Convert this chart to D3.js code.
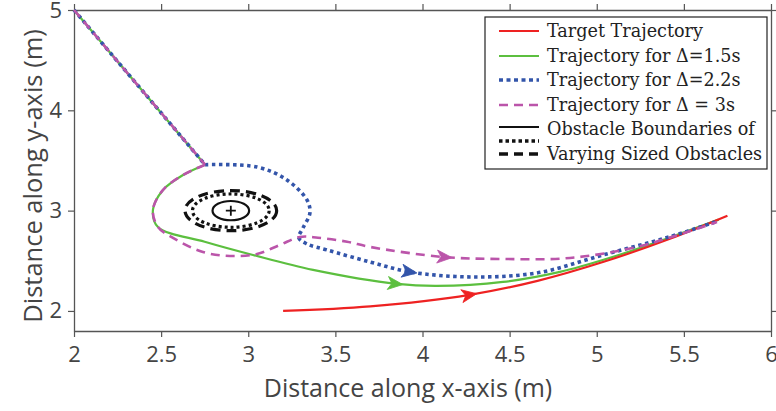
<!DOCTYPE html>
<html><head><meta charset="utf-8">
<script src="https://cdn.jsdelivr.net/npm/d3@7"></script>
<style>body{margin:0;background:#fff}</style>
</head><body>
<svg id="c" width="776" height="411"></svg>
<script>
// ---- data ----
const xTicks = [2, 2.5, 3, 3.5, 4, 4.5, 5, 5.5, 6];
const xTickLabels = ["2", "2.5", "3", "3.5", "4", "4.5", "5", "5.5", "6"];
const yTicks = [2, 3, 4, 5];
const yTickLabels = ["2", "3", "4", "5"];

const startPoint = [2, 5];
const kinkPoint = [2.752, 3.458];

const redX = [3.2, 3.7, 4.27, 4.66, 5.04, 5.42, 5.75];
const redY = [2.0, 2.045, 2.16, 2.30, 2.49, 2.72, 2.95];

const greenX = [2.752, 2.626, 2.511, 2.453, 2.482, 2.75, 3.027, 3.372, 3.854, 4.083, 4.462, 4.789, 5.076, 5.4, 5.7];
const greenY = [3.458, 3.355, 3.206, 3.007, 2.837, 2.69, 2.558, 2.409, 2.269, 2.249, 2.289, 2.389, 2.53, 2.72, 2.91];

const blueX = [2.752, 3.05, 3.222, 3.337, 3.354, 3.314, 3.29, 3.337, 3.452, 3.699, 3.928, 4.273, 4.657, 5.036, 5.42, 5.68];
const blueY = [3.458, 3.435, 3.306, 3.106, 2.977, 2.827, 2.73, 2.668, 2.608, 2.488, 2.389, 2.339, 2.379, 2.558, 2.74, 2.887];

const magentaX = [2.752, 2.626, 2.511, 2.453, 2.482, 2.568, 2.74, 2.895, 3.05, 3.182, 3.297, 3.40, 3.567, 3.699, 4.118, 4.462, 4.846, 5.231, 5.518, 5.69];
const magentaY = [3.458, 3.355, 3.206, 3.007, 2.837, 2.728, 2.588, 2.548, 2.568, 2.658, 2.738, 2.73, 2.69, 2.638, 2.538, 2.518, 2.528, 2.638, 2.787, 2.887];

// arrow tip positions (data coords)
const arrowRed = [4.31, 2.17];
const arrowGreen = [3.888, 2.266];
const arrowBlue = [3.968, 2.379];
const arrowMagenta = [4.17, 2.536];

// obstacle (centre and radii in data units)
const obstacleCenter = [2.9, 3.0];
const obstacleRx = [0.105, 0.22, 0.263];
const obstacleRy = [0.096, 0.166, 0.2];

const legendLabels = ["Target Trajectory", "Trajectory for \u0394=1.5s", "Trajectory for \u0394=2.2s",
  "Trajectory for \u0394 = 3s", "Obstacle Boundaries of", "Varying Sized Obstacles"];

// ---- chart ----
const svg = d3.select("#c");
const x = d3.scaleLinear().domain([2, 6]).range([74, 771]);
const y = d3.scaleLinear().domain([1.8, 5]).range([331, 10]);
const axisColor = "#555";
const tickFont = "'Open Sans', sans-serif";

// axes
const gx = svg.append("g").attr("transform", "translate(0,331)")
  .call(d3.axisBottom(x).tickValues(xTicks).tickFormat((d, i) => xTickLabels[i]).tickSize(6).tickSizeOuter(0));
const gxt = svg.append("g").attr("transform", "translate(0,10)")
  .call(d3.axisTop(x).tickValues(xTicks).tickFormat("").tickSize(6).tickSizeOuter(0));
const gy = svg.append("g").attr("transform", "translate(74,0)")
  .call(d3.axisLeft(y).tickValues(yTicks).tickFormat((d, i) => yTickLabels[i]).tickSize(6).tickSizeOuter(0));
const gyr = svg.append("g").attr("transform", "translate(771,0)")
  .call(d3.axisRight(y).tickValues(yTicks).tickFormat("").tickSize(6).tickSizeOuter(0));
[gx, gxt, gy, gyr].forEach(g => {
  g.selectAll("path.domain").attr("stroke", axisColor).attr("stroke-width", 1.3);
  g.selectAll(".tick line").attr("stroke", axisColor).attr("stroke-width", 1.2);
  g.selectAll(".tick text").attr("fill", "#444").attr("font-family", tickFont).attr("font-size", 22);
});
gx.selectAll(".tick text").attr("dy", "0.9em").attr("y", 11);
gy.selectAll(".tick text").attr("x", -12);

svg.append("text").attr("x", 408).attr("y", 397).attr("text-anchor", "middle")
  .attr("font-family", tickFont).attr("font-size", 25).attr("fill", "#444")
  .text("Distance along x-axis (m)");
svg.append("text").attr("transform", "translate(42,176) rotate(-90)").attr("text-anchor", "middle")
  .attr("font-family", tickFont).attr("font-size", 25.5).attr("fill", "#444")
  .text("Distance along y-axis (m)");

const plot = svg.append("g");

// obstacles
const obsStyles = [
  {w: 2.2, dash: null},
  {w: 3.2, dash: "3,3"},
  {w: 3.2, dash: "10,6"}
];
obstacleRx.forEach((rx, i) => {
  plot.append("ellipse")
    .attr("cx", x(obstacleCenter[0])).attr("cy", y(obstacleCenter[1]))
    .attr("rx", x(obstacleCenter[0] + rx) - x(obstacleCenter[0]))
    .attr("ry", y(obstacleCenter[1]) - y(obstacleCenter[1] + obstacleRy[i]))
    .attr("fill", "none").attr("stroke", "#111").attr("stroke-width", obsStyles[i].w)
    .attr("stroke-dasharray", obsStyles[i].dash);
});
// centre marker
const cxp = x(obstacleCenter[0]), cyp = y(obstacleCenter[1]);
plot.append("path").attr("d", `M${cxp - 5},${cyp}H${cxp + 5}M${cxp},${cyp - 5}V${cyp + 5}`)
  .attr("stroke", "#111").attr("stroke-width", 1.8);

const lineCurve = d3.line().x(d => x(d[0])).y(d => y(d[1])).curve(d3.curveCatmullRom.alpha(0.5));
const lineStraight = d3.line().x(d => x(d[0])).y(d => y(d[1]));
const zip = (a, b) => a.map((v, i) => [v, b[i]]);

const series = [
  {name: "green", xs: greenX, ys: greenY, color: "#5cbf3f", w: 2.2, dash: null, arrow: arrowGreen, lead: true},
  {name: "red", xs: redX, ys: redY, color: "#ee2222", w: 2.2, dash: null, arrow: arrowRed, lead: false},
  {name: "blue", xs: blueX, ys: blueY, color: "#3355aa", w: 3.6, dash: "3.5,3.5", arrow: arrowBlue, lead: true},
  {name: "magenta", xs: magentaX, ys: magentaY, color: "#bb55aa", w: 2.6, dash: "9,6", arrow: arrowMagenta, lead: true}
];

series.forEach(s => {
  const pts = zip(s.xs, s.ys);
  let d = lineCurve(pts);
  if (s.lead) d = lineStraight([startPoint, kinkPoint]) + d;
  const p = plot.append("path").attr("d", d).attr("fill", "none")
    .attr("stroke", s.color).attr("stroke-width", s.w)
    .attr("stroke-dasharray", s.dash);
  // arrowhead
  const node = p.node();
  const L = node.getTotalLength();
  const tx = x(s.arrow[0]), ty = y(s.arrow[1]);
  let best = 0, bd = Infinity;
  for (let l = 0; l <= L; l += 0.5) {
    const q = node.getPointAtLength(l);
    const dd = (q.x - tx) ** 2 + (q.y - ty) ** 2;
    if (dd < bd) { bd = dd; best = l; }
  }
  const tip = node.getPointAtLength(best);
  const back = node.getPointAtLength(Math.max(0, best - 6));
  const ang = Math.atan2(tip.y - back.y, tip.x - back.x) * 180 / Math.PI;
  plot.append("path").attr("d", "M0,0L-15,-6.5L-11,0L-15,6.5Z")
    .attr("transform", `translate(${tip.x},${tip.y}) rotate(${ang})`)
    .attr("fill", s.color).attr("stroke", s.color).attr("stroke-width", 0.8);
});

// legend
const lg = svg.append("g");
lg.append("rect").attr("x", 485).attr("y", 17).attr("width", 282).attr("height", 152)
  .attr("fill", "#fff").attr("stroke", "#222").attr("stroke-width", 1.2);
const legendSamples = [
  {y: 31, color: "#ee2222", w: 2, dash: null},
  {y: 56, color: "#5cbf3f", w: 2.2, dash: null},
  {y: 80, color: "#3355aa", w: 3.6, dash: "4,3.5"},
  {y: 105, color: "#bb55aa", w: 2.6, dash: "9,6"},
  {y: 127, color: "#111", w: 2.2, dash: null},
  {y: 141, color: "#111", w: 3.4, dash: "3.5,3"},
  {y: 154, color: "#111", w: 3.4, dash: "9,6"}
];
legendSamples.forEach(s => {
  lg.append("line").attr("x1", 499).attr("x2", 539).attr("y1", s.y).attr("y2", s.y)
    .attr("stroke", s.color).attr("stroke-width", s.w).attr("stroke-dasharray", s.dash);
});
const legendTextY = [31, 56, 80, 105, 129, 154];
legendLabels.forEach((t, i) => {
  lg.append("text").attr("x", 547).attr("y", legendTextY[i]).attr("dy", "0.35em")
    .attr("font-family", "'DejaVu Serif', serif").attr("font-size", 17.6).attr("fill", "#222")
    .text(t);
});
</script>
</body></html>
